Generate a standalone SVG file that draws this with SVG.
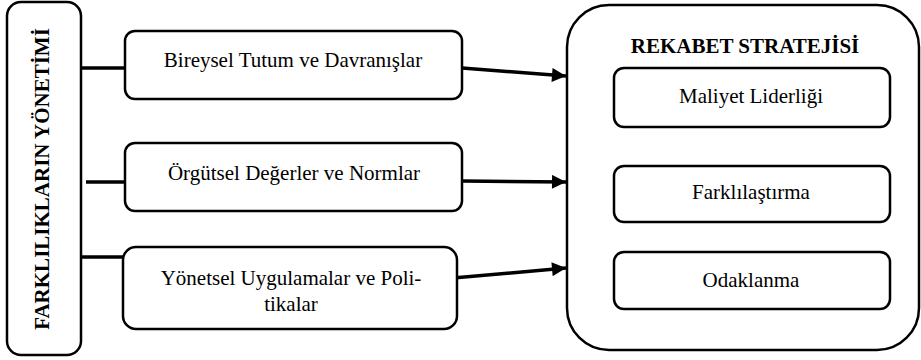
<svg xmlns="http://www.w3.org/2000/svg" width="921" height="360" viewBox="0 0 921 360">
<defs>
<marker id="arr" viewBox="0 0 10 10" refX="10" refY="5" markerWidth="5" markerHeight="4" orient="auto" markerUnits="strokeWidth">
<path d="M0,0 L10,5 L0,10 z" fill="#000"/>
</marker>
</defs>
<style>
.box{fill:#fff;stroke:#000;stroke-width:2.5}
.t{font-family:"Liberation Serif","Times New Roman",serif;font-size:21px;fill:#000;text-anchor:middle}
.b{font-weight:bold}
.ln{stroke:#000;stroke-width:3.5;fill:none}
</style>
<rect width="921" height="360" fill="#fff"/>
<g id="connectors">
<line class="ln" x1="82" y1="68" x2="125" y2="68"/>
<line class="ln" x1="86" y1="182" x2="125" y2="182"/>
<line class="ln" x1="82" y1="257" x2="123" y2="257"/>
<line class="ln" x1="462" y1="68" x2="566" y2="76" marker-end="url(#arr)"/>
<line class="ln" x1="462" y1="181" x2="566" y2="182" marker-end="url(#arr)"/>
<line class="ln" x1="453" y1="278" x2="566" y2="268" marker-end="url(#arr)"/>
</g>
<g id="farkliliklar">
<rect class="box" x="7" y="2" width="74" height="353" rx="14"/>
<text class="t b" font-family="Liberation Serif" transform="translate(49,179) rotate(-90)">FARKLILIKLARIN YÖNETİMİ</text>
</g>
<g id="bireysel">
<rect class="box" x="125" y="31" width="337" height="68" rx="10"/>
<text class="t" font-family="Liberation Serif" x="293" y="67">Bireysel Tutum ve Davranışlar</text>
</g>
<g id="orgutsel">
<rect class="box" x="125" y="143" width="337" height="68" rx="10"/>
<text class="t" font-family="Liberation Serif" x="294" y="180">Örgütsel Değerler ve Normlar</text>
</g>
<g id="yonetsel">
<rect class="box" x="123" y="247" width="334" height="82" rx="13"/>
<text class="t" font-family="Liberation Serif" x="291" y="285">Yönetsel Uygulamalar ve Poli-</text>
<text class="t" font-family="Liberation Serif" x="291" y="311">tikalar</text>
</g>
<g id="rekabet">
<rect class="box" x="567" y="5" width="352" height="345" rx="42"/>
<text class="t b" font-family="Liberation Serif" x="745" y="53">REKABET STRATEJİSİ</text>
</g>
<g id="maliyet">
<rect class="box" x="614" y="68" width="276" height="59" rx="10"/>
<text class="t" font-family="Liberation Serif" x="751" y="103">Maliyet Liderliği</text>
</g>
<g id="farklilastirma">
<rect class="box" x="614" y="166" width="276" height="56" rx="10"/>
<text class="t" font-family="Liberation Serif" x="751" y="199">Farklılaştırma</text>
</g>
<g id="odaklanma">
<rect class="box" x="614" y="252" width="276" height="57" rx="10"/>
<text class="t" font-family="Liberation Serif" x="751" y="287">Odaklanma</text>
</g>
</svg>
